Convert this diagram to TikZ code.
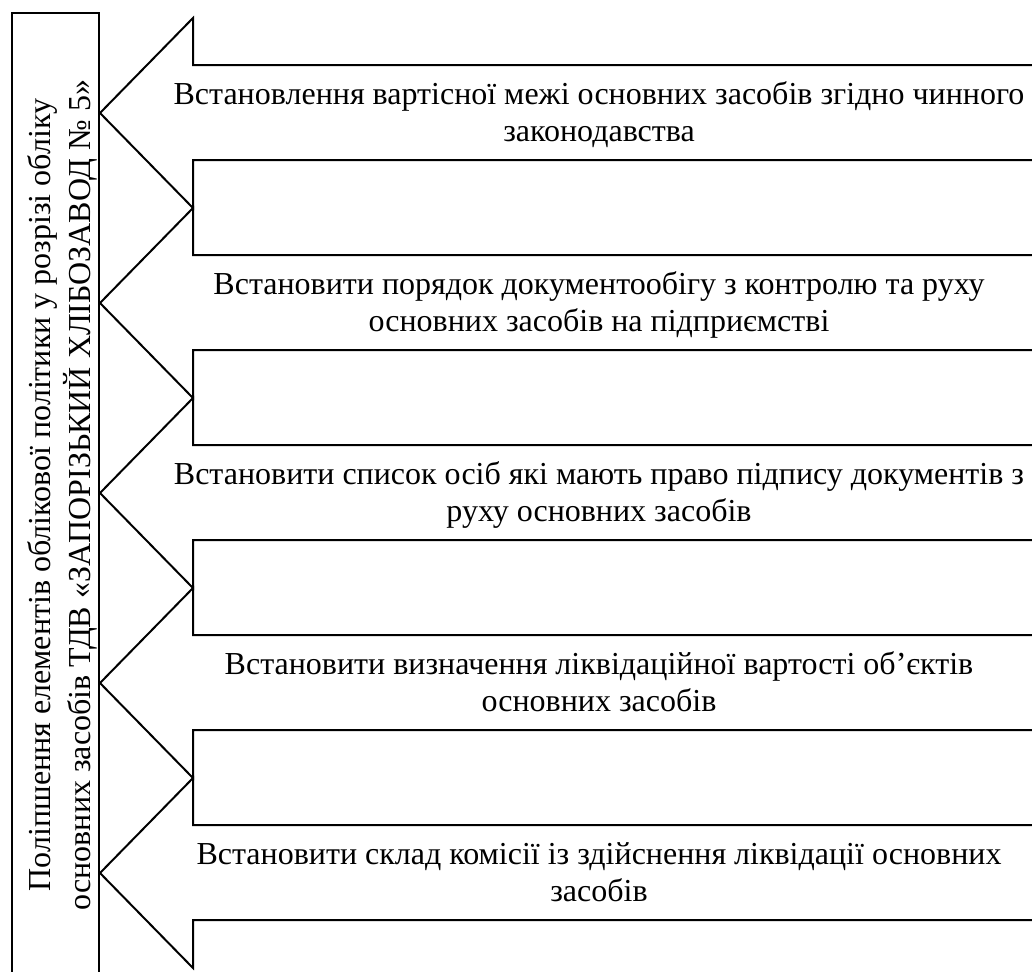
\documentclass[tikz,border=0pt]{standalone}
\usepackage{fontspec}
\setmainfont{Liberation Serif}
\usetikzlibrary{positioning}

\begin{document}
\begin{tikzpicture}[x = 0.5pt, y = -0.5pt, line width = 1pt,
	outline/.style = {black, line join = miter},
	itemtext/.style = {align = center, inner sep = 0pt, font = \fontsize{16}{18.5}\selectfont}]
					\useasboundingbox (0, 0) rectangle (1032, 971);
					\clip (0, 0) rectangle (1032, 971);
					\draw[outline] (12, 1000)--(12, 13)--(99, 13)--(99, 1000);
					\node (policy) at (63, 495) [itemtext, rotate = 90] {\strut Поліпшення елементів облікової політики у розрізі обліку\\ \strut основних засобів ТДВ «ЗАПОРІЗЬКИЙ ХЛІБОЗАВОД № 5»};
					\draw[outline] (1040, 65)--(193, 65)--(193, 18)--(100, 113)--(193, 208)--(193, 160)--(1040, 160);
					\draw[outline] (1040, 255)--(193, 255)--(193, 208)--(100, 303)--(193, 398)--(193, 350)--(1040, 350);
					\draw[outline] (1040, 445)--(193, 445)--(193, 398)--(100, 493)--(193, 588)--(193, 540)--(1040, 540);
					\draw[outline] (1040, 635)--(193, 635)--(193, 588)--(100, 683)--(193, 778)--(193, 730)--(1040, 730);
					\draw[outline] (1040, 825)--(193, 825)--(193, 778)--(100, 873)--(193, 968)--(193, 920)--(1040, 920);
					\node (limit) at (599, 116) [itemtext] {\strut Встановлення вартісної межі основних засобів згідно чинного\\ \strut законодавства};
					\node (docflow) at (599, 306) [itemtext] {\strut Встановити порядок документообігу з контролю та руху\\ \strut основних засобів на підприємстві};
					\node (signers) at (599, 496) [itemtext] {\strut Встановити список осіб які мають право підпису документів з\\ \strut руху основних засобів};
					\node (salvage) at (599, 686) [itemtext] {\strut Встановити визначення ліквідаційної вартості об’єктів\\ \strut основних засобів};
					\node (commission) at (599, 876) [itemtext] {\strut Встановити склад комісії із здійснення ліквідації основних\\ \strut засобів};
				\end{tikzpicture}
\end{document}
